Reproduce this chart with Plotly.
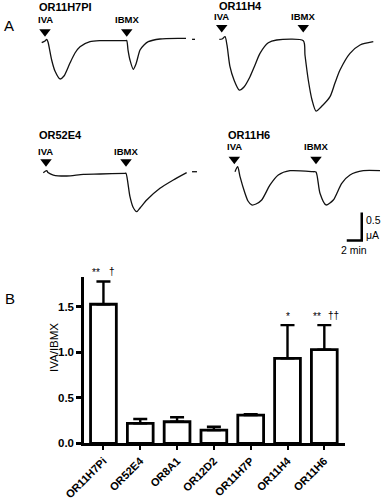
import plotly.graph_objects as go

# ---------------- Panel A data: current traces (time in min, current in uA rel. to baseline)
t_h7pi = [0.76, 1.2, 1.43, 1.6, 2.09, 2.53, 3.2, 3.73, 4.53, 5.2, 5.87, 7.2, 8.53, 11.87, 12.09,
          12.27, 12.53, 12.97, 13.33, 13.87, 14.4, 14.97, 16.53, 19.2, 20.0]
i_h7pi = [-0.048, -0.018, 0.012, -0.036, -0.357, -0.554, -0.696, -0.643, -0.411, -0.232, -0.12,
          -0.03, -0.012, -0.012, -0.009, -0.179, -0.357, -0.523, -0.429, -0.179, -0.089, -0.03,
          0.018, 0.03, 0.03]

t_h4 = [0.27, 0.67, None, 3.91, 4.27, 4.67, 4.93, 5.33, 5.87, 6.57, 7.2, 8.0, 8.67, 9.33, 10.44,
        11.56, 15.11, 15.33, 15.77, 16.27, 16.8, 17.6, 18.67, 19.33, 20.0, 21.33, 22.67, 24.44]
i_h4 = [0.012, 0.012, None, 0.012, 0.018, 0.059, -0.089, -0.477, -0.714, -0.893, -0.839, -0.655,
        -0.446, -0.238, -0.048, 0.0, -0.012, -0.268, -0.714, -1.071, -1.268, -1.179, -1.012,
        -0.768, -0.536, -0.238, -0.089, -0.03]

t_52e4 = [0.97, 1.43, 1.6, 2.31, 4.09, 6.31, 8.53, 11.87, 12.0, 12.53, 12.93, 13.43, 13.87, 14.76,
          16.53, 18.31, 20.09]
i_52e4 = [-0.012, 0.023, -0.009, -0.054, -0.071, -0.041, -0.036, -0.023, -0.023, -0.441, -0.625,
          -0.709, -0.643, -0.5, -0.291, -0.143, -0.012]

t_h6 = [0.27, 0.93, None, 6.0, 6.36, 6.67, 7.33, 7.73, 8.23, 8.8, 9.56, 10.67, 11.77, 13.33, 16.44,
        16.8, 17.33, 18.13, 19.11, 20.23, 21.33, 23.11, 25.33]
i_h6 = [0.005, 0.005, None, 0.005, 0.095, -0.084, -0.38, -0.518, -0.589, -0.571, -0.5, -0.232,
        -0.054, 0.023, 0.005, 0.0, -0.38, -0.589, -0.5, -0.202, -0.054, 0.023, 0.023]

trace_names = ["OR11H7PI", "OR11H4", "OR52E4", "OR11H6"]
iva_times = [1.2, 4.23, 1.33, 5.91]
ibmx_times = [12.1, 15.1, 12.0, 16.8]

scale_min = 2      # min
scale_ua = 0.5     # uA

# ---------------- Panel B data
categories = ["OR11H7Pi", "OR52E4", "OR8A1", "OR12D2", "OR11H7P", "OR11H4", "OR11H6"]
ratio = [1.53, 0.22, 0.237, 0.146, 0.31, 0.934, 1.03]
sem = [0.25, 0.047, 0.049, 0.036, 0.009, 0.366, 0.27]
sig_left = ["**", "", "", "", "", "*", "**"]
sig_right = ["†", "", "", "", "", "", "††"]

W, H = 382, 500
fig = go.Figure()

def px_dom_x(a, b):
    return [a / W, b / W]

def px_dom_y(top, bottom):
    return [1 - bottom / H, 1 - top / H]

PX_PER_MIN = 7.5
PX_PER_UA = 56.0
panels = [
    # (left px, right px, top px, bottom px, baseline px)
    (36, 190, 0, 120, 40),
    (190, 382, 0, 120, 40),
    (36, 190, 128, 256, 172),
    (190, 382, 128, 256, 172),
]
series = [(t_h7pi, i_h7pi), (t_h4, i_h4), (t_52e4, i_52e4), (t_h6, i_h6)]
arrow_y = [0.148, 0.223, 0.184, 0.229]
text_y = [0.37, 0.42, 0.3625, 0.464]
name_y = [0.598, 0.607, 0.652, 0.661]
name_x = [0.09, 3.56, 0.09, 4.8]

annotations = []
for k, (l, r, tp, bt, base) in enumerate(panels):
    n = k + 2
    xa = dict(domain=px_dom_x(l, r), range=[0, (r - l) / PX_PER_MIN], visible=False,
              anchor=f"y{n}", fixedrange=True)
    ya = dict(domain=px_dom_y(tp, bt), range=[-(bt - base) / PX_PER_UA, (base - tp) / PX_PER_UA],
              visible=False, anchor=f"x{n}", fixedrange=True)
    fig.layout[f"xaxis{n}"] = xa
    fig.layout[f"yaxis{n}"] = ya
    t, cur = series[k]
    fig.add_trace(go.Scatter(x=t, y=cur, mode="lines",
                             line=dict(color="#111", width=1.3, shape="spline", smoothing=0.7),
                             xaxis=f"x{n}", yaxis=f"y{n}", showlegend=False, hoverinfo="skip"))
    fig.add_trace(go.Scatter(x=[iva_times[k], ibmx_times[k]], y=[arrow_y[k]] * 2, mode="markers",
                             marker=dict(symbol="triangle-down", size=10, color="#000"),
                             xaxis=f"x{n}", yaxis=f"y{n}", showlegend=False, hoverinfo="skip"))
    for lab, tt in (("IVA", iva_times[k]), ("IBMX", ibmx_times[k])):
        annotations.append(dict(x=tt, y=text_y[k], xref=f"x{n}", yref=f"y{n}", text=lab,
                                showarrow=False, xanchor="center", yanchor="middle",
                                font=dict(family="Liberation Sans, Arial", size=9.5, color="#000",
                                          weight="bold")))
    annotations.append(dict(x=name_x[k], y=name_y[k], xref=f"x{n}", yref=f"y{n}", text=trace_names[k],
                            showarrow=False, xanchor="left", yanchor="middle",
                            font=dict(family="Liberation Sans, Arial", size=11, color="#000",
                                      weight="bold")))

# scale bar in the last panel
sb_x1 = 22.9
sb_y0 = -1.225
fig.add_trace(go.Scatter(x=[sb_x1 - scale_min, sb_x1, sb_x1], y=[sb_y0, sb_y0, sb_y0 + scale_ua],
                         mode="lines", line=dict(color="#000", width=2.5),
                         xaxis="x5", yaxis="y5", showlegend=False, hoverinfo="skip"))
sb_font = dict(family="Liberation Sans, Arial", size=10.5, color="#000")
annotations += [
    dict(x=sb_x1 + 0.25, y=sb_y0 + scale_ua * 0.73, xref="x5", yref="y5", text=f"{scale_ua}",
         showarrow=False, xanchor="left", yanchor="middle", font=sb_font),
    dict(x=sb_x1 + 0.25, y=sb_y0 + scale_ua * 0.2, xref="x5", yref="y5", text="μA",
         showarrow=False, xanchor="left", yanchor="middle", font=sb_font),
    dict(x=sb_x1 - scale_min / 2 - 0.1, y=sb_y0 - 0.16, xref="x5", yref="y5",
         text=f"{scale_min} min", showarrow=False, xanchor="center", yanchor="middle", font=sb_font),
]

# ---------------- Panel B
fig.add_trace(go.Bar(
    x=categories, y=ratio, width=0.7,
    marker=dict(color="white", line=dict(color="#000", width=2.8)),
    error_y=dict(type="data", array=sem, arrayminus=[0] * len(sem), symmetric=False,
                 color="#000", thickness=2.4, width=7),
    xaxis="x", yaxis="y", showlegend=False, hoverinfo="skip"))

xfont = dict(family="Liberation Sans, Arial", size=11, color="#000", weight="bold")
yfont = dict(family="Liberation Sans, Arial", size=11.5, color="#000", weight="bold")
fig.update_layout(
    xaxis=dict(domain=[84.3 / W, 345.3 / W], range=[-0.52, 6.57], showline=True, linewidth=3,
               linecolor="#000", ticks="outside", ticklen=4, tickwidth=2, tickcolor="#000",
               tickangle=-45, tickfont=xfont, showgrid=False, zeroline=False, anchor="y",
               fixedrange=True, automargin=False),
    yaxis=dict(domain=[1 - 443.3 / H, 1 - 277 / H], range=[0, 1.83], showline=True, linewidth=3,
               linecolor="#000", ticks="outside", ticklen=5, tickwidth=2.5, tickcolor="#000",
               tickvals=[0, 0.5, 1.0, 1.5], ticktext=["0.0", "0.5", "1.0", "1.5"],
               tickfont=yfont, showgrid=False, zeroline=False, anchor="x", fixedrange=True,
               automargin=False),
)

star_font = dict(family="Liberation Sans, Arial", size=10, color="#000")
for c, v, e, sl, sr in zip(categories, ratio, sem, sig_left, sig_right):
    if sl:
        annotations.append(dict(x=c, y=v + e, xref="x", yref="y", text=sl, showarrow=False,
                                xshift=-7 if sr else 0, yshift=9, font=star_font))
    if sr:
        annotations.append(dict(x=c, y=v + e, xref="x", yref="y", text=sr, showarrow=False,
                                xshift=9, yshift=10, font=star_font))

annotations.append(dict(x=54 / W, y=1 - 348 / H, xref="paper", yref="paper", text="IVA/IBMX",
                        textangle=-90, showarrow=False, xanchor="center", yanchor="middle",
                        font=dict(family="Liberation Sans, Arial", size=11.5, color="#000")))

panel_font = dict(family="Liberation Sans, Arial", size=15, color="#000")
annotations += [
    dict(x=2 / W, y=1 - 25 / H, xref="paper", yref="paper", text="A", showarrow=False,
         xanchor="left", yanchor="middle", font=panel_font),
    dict(x=3 / W, y=1 - 298 / H, xref="paper", yref="paper", text="B", showarrow=False,
         xanchor="left", yanchor="middle", font=panel_font),
]

fig.update_layout(width=W, height=H, margin=dict(l=0, r=0, t=0, b=0, autoexpand=False),
                  paper_bgcolor="white", plot_bgcolor="white", annotations=annotations,
                  bargap=0.3)

fig.write_html("out.html", config={"displayModeBar": False},
               post_script="document.body.style.margin='0';document.body.style.overflow='hidden';")
